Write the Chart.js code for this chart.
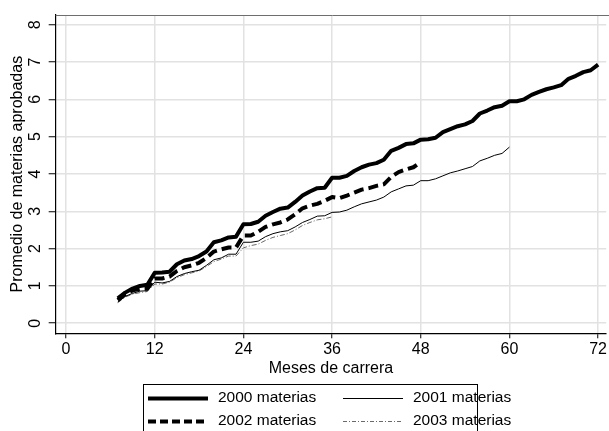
<!DOCTYPE html>
<html>
<head>
<meta charset="utf-8">
<script src="https://cdn.jsdelivr.net/npm/chart.js@4"></script>
<style>
  html, body { margin: 0; padding: 0; background: #fff; }
  #wrap { width: 609px; height: 431px; }
</style>
</head>
<body>
<div id="wrap"><canvas id="grafico"></canvas></div>
<script>
// meses de carrera (eje x) y marcas de los ejes
var meses = [7, 8, 9, 10, 11, 12, 13, 14, 15, 16, 17, 18, 19, 20, 21, 22, 23, 24, 25, 26, 27, 28, 29, 30,
  31, 32, 33, 34, 35, 36, 37, 38, 39, 40, 41, 42, 43, 44, 45, 46, 47, 48, 49, 50, 51, 52, 53, 54,
  55, 56, 57, 58, 59, 60, 61, 62, 63, 64, 65, 66, 67, 68, 69, 70, 71, 72];
var ticksX = [0, 12, 24, 36, 48, 60, 72];
var ticksY = [0, 1, 2, 3, 4, 5, 6, 7, 8];

var cohortes = ['2000 materias', '2001 materias', '2002 materias', '2003 materias'];

// promedio de materias aprobadas por cohorte (desde el mes 7)
var m2000 = [0.67, 0.82, 0.93, 1.0, 1.03, 1.35, 1.36, 1.38, 1.58, 1.68, 1.72, 1.8, 1.92, 2.17, 2.22, 2.3, 2.32, 2.65,
  2.66, 2.72, 2.88, 2.98, 3.07, 3.1, 3.25, 3.42, 3.53, 3.62, 3.63, 3.9, 3.9, 3.95, 4.08, 4.18, 4.25, 4.29,
  4.38, 4.62, 4.7, 4.8, 4.82, 4.92, 4.93, 4.97, 5.12, 5.2, 5.28, 5.33, 5.42, 5.62, 5.7, 5.79, 5.83, 5.95,
  5.95, 6.0, 6.12, 6.2, 6.27, 6.32, 6.38, 6.55, 6.63, 6.73, 6.78, 6.93];
var m2001 = [0.57, 0.72, 0.8, 0.86, 0.87, 1.1, 1.08, 1.12, 1.25, 1.33, 1.38, 1.42, 1.55, 1.7, 1.75, 1.85, 1.85, 2.17,
  2.17, 2.2, 2.32, 2.4, 2.45, 2.48, 2.58, 2.7, 2.78, 2.87, 2.88, 2.97, 2.98, 3.03, 3.12, 3.2, 3.25, 3.3,
  3.38, 3.52, 3.6, 3.68, 3.7, 3.82, 3.82, 3.87, 3.95, 4.03, 4.08, 4.14, 4.2, 4.35, 4.42, 4.5, 4.55, 4.72];
var m2002 = [0.62, 0.78, 0.88, 0.92, 0.93, 1.2, 1.2, 1.25, 1.4, 1.5, 1.55, 1.62, 1.75, 1.92, 1.98, 2.03, 2.03, 2.35,
  2.35, 2.45, 2.58, 2.65, 2.7, 2.78, 2.92, 3.08, 3.15, 3.2, 3.28, 3.38, 3.35, 3.42, 3.5, 3.58, 3.62, 3.68,
  3.72, 3.92, 4.05, 4.12, 4.18, 4.32];
var m2003 = [0.55, 0.7, 0.78, 0.82, 0.85, 1.05, 1.05, 1.1, 1.22, 1.3, 1.35, 1.4, 1.52, 1.65, 1.72, 1.8, 1.8, 2.02,
  2.08, 2.12, 2.22, 2.3, 2.35, 2.4, 2.5, 2.62, 2.7, 2.77, 2.8, 2.85];

function puntos(valores) {
  return valores.map(function (v, i) { return { x: meses[i], y: v }; });
}

var fuente = '"Liberation Sans", Arial, sans-serif';

// leyenda con recuadro y etiquetas de y giradas, como en Stata
var extras = {
  id: 'extras',
  afterDraw: function (chart) {
    var ctx = chart.ctx;
    var area = chart.chartArea;
    var sy = chart.scales.y;
    ctx.save();
    // borde superior gris
    ctx.strokeStyle = '#6e6e6e';
    ctx.lineWidth = 1;
    ctx.beginPath();
    ctx.moveTo(area.left, area.top + 0.5);
    ctx.lineTo(chart.width, area.top + 0.5);
    ctx.stroke();

    // etiquetas del eje y, giradas
    ctx.fillStyle = '#000';
    ctx.font = '16px ' + fuente;
    ctx.textAlign = 'center';
    ctx.textBaseline = 'middle';
    ticksY.forEach(function (v) {
      var py = sy.getPixelForValue(v);
      ctx.save();
      ctx.translate(36, py);
      ctx.rotate(-Math.PI / 2);
      ctx.fillText(String(v), 0, 0);
      ctx.restore();
    });

    // leyenda
    ctx.strokeStyle = '#000';
    ctx.lineWidth = 1;
    ctx.strokeRect(143.5, 384.5, 334, 60);
    var pos = [[148, 398], [343, 398], [148, 421], [343, 421]];
    var orden = [0, 1, 2, 3];
    orden.forEach(function (k, i) {
      var ds = chart.data.datasets[k];
      var x = pos[i][0], y = pos[i][1];
      ctx.save();
      ctx.strokeStyle = ds.borderColor;
      ctx.lineWidth = ds.borderWidth;
      ctx.setLineDash(ds.legendDash || []);
      ctx.beginPath();
      ctx.moveTo(x, y + 0.5);
      ctx.lineTo(x + 60, y + 0.5);
      ctx.stroke();
      ctx.restore();
      ctx.fillStyle = '#000';
      ctx.font = '15.5px ' + fuente;
      ctx.textAlign = 'left';
      ctx.textBaseline = 'middle';
      ctx.fillText(ds.label, x + 70, y);
    });
    ctx.restore();
  }
};

new Chart(document.getElementById('grafico'), {
  type: 'line',
  data: {
    datasets: [
      { label: cohortes[0], data: puntos(m2000), borderColor: '#000', borderWidth: 4 },
      { label: cohortes[1], data: puntos(m2001), borderColor: '#000', borderWidth: 1 },
      { label: cohortes[2], data: puntos(m2002), borderColor: '#000', borderWidth: 4,
        borderDash: [10, 5], legendDash: [8, 4] },
      { label: cohortes[3], data: puntos(m2003), borderColor: '#444', borderWidth: 0.8,
        borderDash: [5, 2, 1, 2], legendDash: [4, 2, 1, 2] }
    ]
  },
  options: {
    responsive: true,
    maintainAspectRatio: false,
    animation: false,
    layout: { padding: { left: 0, top: 15, right: 0, bottom: 0 } },
    elements: {
      point: { radius: 0 },
      line: { tension: 0, borderJoinStyle: 'round', borderCapStyle: 'butt' }
    },
    plugins: { legend: { display: false }, tooltip: { enabled: false } },
    scales: {
      x: {
        type: 'linear',
        min: -1.4,
        max: 73.1,
        afterBuildTicks: function (s) { s.ticks = ticksX.map(function (v) { return { value: v }; }); },
        afterFit: function (s) { s.height = 97.7; },
        border: { color: '#000', width: 1.2 },
        grid: { color: '#e2e2e2', lineWidth: 1.5, tickLength: 5, tickColor: '#000', tickWidth: 1 },
        ticks: { color: '#000', font: { family: fuente, size: 16 }, padding: 2, maxRotation: 0 },
        title: { display: true, text: 'Meses de carrera', color: '#000',
          font: { family: fuente, size: 16 }, padding: { top: 0, bottom: 53 } }
      },
      y: {
        type: 'linear',
        min: -0.27,
        max: 8.26,
        afterBuildTicks: function (s) { s.ticks = ticksY.map(function (v) { return { value: v }; }); },
        afterFit: function (s) { s.width = 55.7; },
        border: { color: '#000', width: 1.2 },
        grid: { color: '#e2e2e2', lineWidth: 1.5, tickLength: 7, tickColor: '#000', tickWidth: 1 },
        ticks: { display: false },
        title: { display: true, text: 'Promedio de materias aprobadas', color: '#000',
          font: { family: fuente, size: 16 }, padding: { top: 8, bottom: 0 } }
      }
    }
  },
  plugins: [extras]
});
</script>
</body>
</html>
